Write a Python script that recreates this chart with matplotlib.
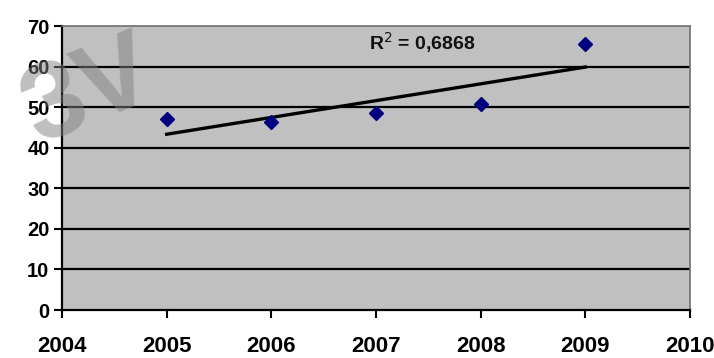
import matplotlib
matplotlib.use("Agg")
import matplotlib.pyplot as plt
import numpy as np

years = [2005, 2006, 2007, 2008, 2009]
values = [47.0, 46.3, 48.5, 50.7, 65.5]
x_ticks = [2004, 2005, 2006, 2007, 2008, 2009, 2010]
y_ticks = [0, 10, 20, 30, 40, 50, 60, 70]
r2_label = "R$^2$ = 0,6868"
watermark = "3V"

plt.rcParams['font.family'] = ['Liberation Sans', 'DejaVu Sans']

fig = plt.figure(figsize=(7.14, 3.58), dpi=100)
ax = fig.add_axes([62/714, 48/358, (690-62)/714, (310-26)/358])
ax.set_facecolor('#C0C0C0')

ax.set_xlim(2004, 2010)
ax.set_ylim(0, 70)
ax.set_xticks(x_ticks)
ax.set_yticks(y_ticks)
ax.set_xticklabels([str(t) for t in x_ticks], fontsize=16, fontweight='bold')
ax.set_yticklabels([str(t) for t in y_ticks], fontsize=14.5, fontweight='bold')
ax.tick_params(axis='both', direction='out', length=6, width=1.5, color='black')
ax.tick_params(axis='x', pad=13)
ax.tick_params(axis='y', pad=3)

for yv in y_ticks[1:-1]:
    ax.axhline(yv, color='black', lw=1.6, zorder=1)

for s in ['left', 'bottom']:
    ax.spines[s].set_color('black')
    ax.spines[s].set_linewidth(1.6)
for s in ['top', 'right']:
    ax.spines[s].set_color('#707070')
    ax.spines[s].set_linewidth(1.2)

# trend line
coef = np.polyfit(years, values, 1)
xt = np.array([years[0], years[-1]])
ax.plot(xt, np.polyval(coef, xt), color='black', lw=2.4, zorder=3)

ax.plot(years, values, linestyle='none', marker='D', markersize=7.5,
        color='#000080', zorder=4)

ax.text(2006.93, 65.8, r2_label, fontsize=14, fontweight='bold',
        ha='left', va='center', color='#111111', zorder=5)

# watermark (kept inside the figure)
fig.text(0.125, 0.74, watermark, fontsize=78, fontweight='bold', color='#808080',
         alpha=0.5, rotation=22, ha='center', va='center', zorder=10)

fig.savefig("out.png", dpi=100)
